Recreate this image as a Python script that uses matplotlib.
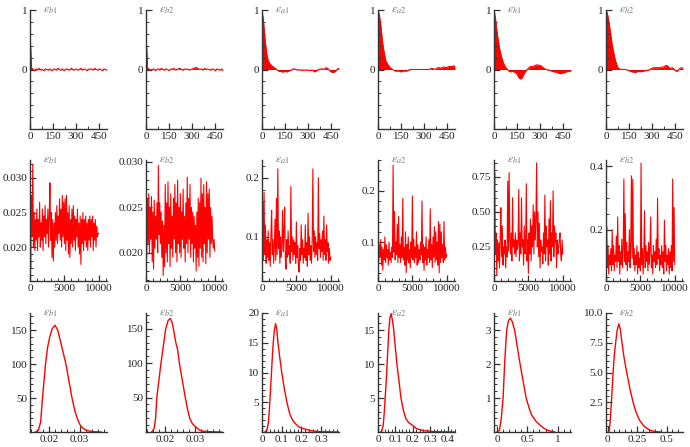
import numpy as np
import matplotlib
matplotlib.use("Agg")
import matplotlib.pyplot as plt
from matplotlib.ticker import FixedLocator, FixedFormatter, MultipleLocator

plt.rcParams['font.family'] = ['Liberation Serif', 'DejaVu Serif']
plt.rcParams['mathtext.fontset'] = 'stix'

names = ['b1', 'b2', 'a1', 'a2', 'h1', 'h2']

# ---------------- autocorrelation (lags 0..500 step 10) ----------------
lags = list(range(0, 501, 10))
acf_b1 = [0.62, 0.03, 0.00, -0.02, 0.01, -0.01, 0.02, -0.01, 0.00, -0.02, 0.01, 0.00, -0.01, 0.01, -0.02, 0.00,
          0.01, -0.01, 0.02, 0.00, -0.01, 0.01, -0.02, 0.00, 0.01, -0.01, 0.00, 0.02, -0.01, 0.00, 0.01, -0.01,
          0.00, 0.02, -0.01, 0.01, 0.00, -0.02, 0.01, 0.00, 0.01, -0.01, 0.02, 0.00, -0.01, 0.01, 0.00, -0.02,
          0.01, 0.00, -0.01]
acf_b2 = [0.62, 0.02, 0.01, -0.01, 0.00, 0.01, -0.02, 0.00, 0.01, -0.01, 0.02, 0.00, -0.01, 0.01, 0.00, -0.02,
          0.01, 0.00, 0.02, -0.01, 0.00, 0.01, 0.02, 0.00, -0.01, 0.01, 0.00, 0.01, -0.01, 0.00, 0.01, 0.02,
          0.03, 0.03, 0.01, 0.00, 0.01, -0.01, 0.02, 0.00, 0.01, 0.00, -0.01, 0.01, 0.00, -0.02, 0.01, 0.00,
          -0.01, 0.01, -0.02]
acf_a1 = [1.00, 0.80, 0.50, 0.28, 0.15, 0.10, 0.07, 0.05, 0.03, 0.01, -0.01, -0.03, -0.03, -0.04, -0.04, -0.03,
          -0.04, -0.03, -0.02, -0.01, 0.01, 0.01, 0.00, -0.01, 0.00, -0.01, -0.01, -0.01, -0.01, -0.01, -0.01,
          -0.02, -0.01, -0.01, -0.04, -0.03, -0.01, 0.00, 0.01, 0.01, 0.00, 0.02, 0.03, 0.01, -0.02, -0.04,
          -0.05, -0.04, -0.02, 0.01, 0.02]
acf_a2 = [1.00, 0.90, 0.70, 0.45, 0.28, 0.15, 0.10, 0.06, 0.03, 0.01, -0.01, -0.02, -0.03, -0.02, -0.03, -0.04,
          -0.03, -0.02, -0.03, -0.02, -0.01, 0.00, 0.00, 0.00, 0.00, 0.00, 0.00, 0.00, 0.00, 0.00, 0.00, 0.00,
          0.00, 0.00, 0.01, 0.02, 0.01, 0.00, 0.02, 0.03, 0.03, 0.02, 0.04, 0.04, 0.03, 0.04, 0.05, 0.05, 0.05,
          0.06, 0.06]
acf_h1 = [1.00, 0.85, 0.62, 0.45, 0.30, 0.20, 0.12, 0.06, 0.02, -0.01, -0.03, -0.04, -0.03, -0.04, -0.05, -0.08,
          -0.13, -0.16, -0.15, -0.10, -0.05, -0.01, 0.01, 0.04, 0.05, 0.05, 0.06, 0.07, 0.08, 0.07, 0.07, 0.05,
          0.03, 0.01, 0.00, -0.01, -0.01, -0.02, -0.03, -0.04, -0.04, -0.05, -0.06, -0.07, -0.06, -0.06, -0.05,
          -0.04, -0.03, -0.03, -0.02]
acf_h2 = [1.00, 0.93, 0.78, 0.60, 0.42, 0.28, 0.16, 0.08, 0.02, 0.01, 0.00, 0.00, 0.00, 0.00, -0.01, -0.02,
          -0.03, -0.04, -0.04, -0.05, -0.04, -0.03, -0.04, -0.03, -0.03, -0.02, -0.02, -0.01, -0.01, 0.01, 0.02,
          0.03, 0.03, 0.03, 0.03, 0.03, 0.04, 0.04, 0.05, 0.07, 0.06, 0.03, 0.02, 0.03, 0.01, -0.02, -0.03,
          -0.01, 0.02, 0.03, 0.02]

# ---------------- traces (iterations 0..10000 step 100) ----------------
iterations = list(range(0, 10001, 100))
tr_b1 = [0.0225, 0.0170, 0.0275, 0.0215, 0.0320, 0.0200, 0.0250, 0.0195, 0.0240, 0.0210,
         0.0255, 0.0195, 0.0240, 0.0215, 0.0265, 0.0200, 0.0235, 0.0210, 0.0255, 0.0195,
         0.0245, 0.0215, 0.0260, 0.0205, 0.0240, 0.0220, 0.0255, 0.0200, 0.0245, 0.0293,
         0.0210, 0.0250, 0.0185, 0.0240, 0.0180, 0.0235, 0.0200, 0.0250, 0.0210, 0.0260,
         0.0205, 0.0245, 0.0220, 0.0270, 0.0210, 0.0255, 0.0200, 0.0275, 0.0215, 0.0265,
         0.0205, 0.0270, 0.0195, 0.0275, 0.0210, 0.0250, 0.0190, 0.0260, 0.0185, 0.0240,
         0.0205, 0.0255, 0.0200, 0.0260, 0.0210, 0.0245, 0.0195, 0.0240, 0.0215, 0.0255,
         0.0200, 0.0235, 0.0190, 0.0245, 0.0175, 0.0240, 0.0205, 0.0250, 0.0195, 0.0240,
         0.0210, 0.0245, 0.0200, 0.0235, 0.0195, 0.0240, 0.0210, 0.0245, 0.0200, 0.0240,
         0.0215, 0.0245, 0.0195, 0.0235, 0.0210, 0.0240, 0.0200, 0.0230, 0.0215, 0.0220,
         0.0220]
tr_b2 = [0.0280, 0.0195, 0.0260, 0.0210, 0.0265, 0.0200, 0.0250, 0.0215, 0.0262, 0.0190,
         0.0245, 0.0182, 0.0258, 0.0205, 0.0240, 0.0215, 0.0255, 0.0200, 0.0296, 0.0220,
         0.0255, 0.0210, 0.0245, 0.0195, 0.0235, 0.0175, 0.0230, 0.0185, 0.0275, 0.0200,
         0.0255, 0.0190, 0.0278, 0.0210, 0.0250, 0.0185, 0.0265, 0.0205, 0.0240, 0.0195,
         0.0260, 0.0215, 0.0275, 0.0200, 0.0255, 0.0190, 0.0280, 0.0210, 0.0250, 0.0200,
         0.0265, 0.0195, 0.0245, 0.0215, 0.0270, 0.0205, 0.0240, 0.0190, 0.0255, 0.0210,
         0.0283, 0.0200, 0.0260, 0.0215, 0.0275, 0.0195, 0.0250, 0.0210, 0.0245, 0.0190,
         0.0240, 0.0205, 0.0230, 0.0180, 0.0245, 0.0195, 0.0260, 0.0185, 0.0255, 0.0205,
         0.0282, 0.0195, 0.0265, 0.0190, 0.0275, 0.0210, 0.0250, 0.0188, 0.0278, 0.0200,
         0.0265, 0.0215, 0.0270, 0.0195, 0.0250, 0.0210, 0.0240, 0.0215, 0.0205, 0.0215,
         0.0202]
tr_a1 = [0.080, 0.160, 0.060, 0.175, 0.070, 0.120, 0.055, 0.095, 0.065, 0.110,
         0.060, 0.090, 0.050, 0.105, 0.145, 0.070, 0.095, 0.055, 0.085, 0.130,
         0.060, 0.165, 0.070, 0.215, 0.080, 0.110, 0.055, 0.100, 0.065, 0.090,
         0.145, 0.075, 0.105, 0.150, 0.060, 0.045, 0.095, 0.065, 0.110, 0.070,
         0.085, 0.055, 0.185, 0.075, 0.100, 0.060, 0.095, 0.070, 0.090, 0.055,
         0.125, 0.065, 0.085, 0.050, 0.040, 0.080, 0.060, 0.120, 0.070, 0.095,
         0.055, 0.080, 0.065, 0.120, 0.060, 0.090, 0.050, 0.140, 0.070, 0.100,
         0.060, 0.085, 0.055, 0.095, 0.215, 0.075, 0.110, 0.065, 0.100, 0.070,
         0.090, 0.060, 0.200, 0.080, 0.105, 0.065, 0.095, 0.075, 0.110, 0.060,
         0.135, 0.070, 0.095, 0.060, 0.120, 0.075, 0.090, 0.055, 0.080, 0.060,
         0.065]
tr_a2 = [0.115, 0.060, 0.095, 0.070, 0.105, 0.055, 0.090, 0.045, 0.085, 0.065,
         0.110, 0.060, 0.095, 0.070, 0.085, 0.055, 0.100, 0.065, 0.080, 0.060,
         0.090, 0.070, 0.250, 0.080, 0.160, 0.065, 0.100, 0.075, 0.135, 0.060,
         0.150, 0.070, 0.095, 0.060, 0.110, 0.070, 0.185, 0.065, 0.090, 0.055,
         0.120, 0.040, 0.095, 0.065, 0.110, 0.060, 0.085, 0.050, 0.100, 0.070,
         0.190, 0.065, 0.105, 0.060, 0.090, 0.070, 0.120, 0.055, 0.095, 0.060,
         0.085, 0.065, 0.100, 0.075, 0.180, 0.060, 0.095, 0.045, 0.090, 0.065,
         0.110, 0.055, 0.085, 0.070, 0.105, 0.060, 0.165, 0.065, 0.095, 0.050,
         0.110, 0.070, 0.130, 0.060, 0.120, 0.065, 0.100, 0.055, 0.140, 0.040,
         0.135, 0.060, 0.120, 0.070, 0.095, 0.060, 0.140, 0.065, 0.090, 0.070,
         0.075]
tr_h1 = [0.450, 0.780, 0.200, 0.350, 0.050, 0.300, 0.150, 0.280, 0.100, 0.330,
         0.530, 0.180, 0.400, 0.120, 0.250, 0.200, 0.300, 0.100, 0.250, 0.180,
         0.720, 0.220, 0.780, 0.300, 0.200, 0.350, 0.150, 0.600, 0.250, 0.300,
         0.200, 0.350, 0.180, 0.300, 0.230, 0.280, 0.660, 0.150, 0.350, 0.200,
         0.600, 0.250, 0.300, 0.120, 0.400, 0.200, 0.280, 0.700, 0.150, 0.300,
         0.060, 0.350, 0.200, 0.450, 0.150, 0.400, 0.250, 0.550, 0.200, 0.500,
         0.300, 0.450, 0.850, 0.250, 0.500, 0.180, 0.420, 0.100, 0.300, 0.220,
         0.250, 0.130, 0.350, 0.200, 0.620, 0.150, 0.400, 0.250, 0.300, 0.120,
         0.450, 0.200, 0.580, 0.150, 0.350, 0.250, 0.650, 0.180, 0.400, 0.280,
         0.350, 0.100, 0.300, 0.200, 0.250, 0.300, 0.350, 0.200, 0.150, 0.300,
         0.200]
tr_h2 = [0.130, 0.210, 0.080, 0.150, 0.060, 0.120, 0.090, 0.140, 0.070, 0.200,
         0.090, 0.150, 0.070, 0.120, 0.100, 0.180, 0.080, 0.240, 0.100, 0.150,
         0.060, 0.130, 0.090, 0.170, 0.080, 0.140, 0.360, 0.100, 0.250, 0.090,
         0.160, 0.070, 0.130, 0.100, 0.200, 0.080, 0.150, 0.370, 0.110, 0.360,
         0.090, 0.140, 0.070, 0.120, 0.090, 0.150, 0.060, 0.130, 0.080, 0.110,
         0.070, 0.410, 0.090, 0.140, 0.060, 0.120, 0.260, 0.080, 0.150, 0.100,
         0.130, 0.070, 0.160, 0.090, 0.140, 0.240, 0.080, 0.120, 0.060, 0.150,
         0.100, 0.130, 0.080, 0.170, 0.090, 0.300, 0.110, 0.140, 0.070, 0.120,
         0.090, 0.150, 0.080, 0.130, 0.060, 0.230, 0.100, 0.150, 0.070, 0.120,
         0.090, 0.140, 0.060, 0.130, 0.080, 0.150, 0.070, 0.360, 0.100, 0.270,
         0.090]

# ---------------- posterior densities ----------------
dx_b1 = [0.0155, 0.0165, 0.0172, 0.0178, 0.0183, 0.0188, 0.0195, 0.0202, 0.0210, 0.0219, 0.0228, 0.0239,
         0.0247, 0.0255, 0.0265, 0.0275, 0.0285, 0.0294, 0.0302, 0.0310, 0.0320, 0.0330, 0.0345, 0.0370]
dy_b1 = [0, 3, 15, 50, 75, 100, 125, 140, 152, 157, 150, 130, 115, 100, 75, 50, 30, 18, 10, 6, 3, 1.5, 0.5, 0]
dx_b2 = [0.0155, 0.0163, 0.0168, 0.0172, 0.0179, 0.0186, 0.0194, 0.0202, 0.0210, 0.0217, 0.0223, 0.0228,
         0.0236, 0.0242, 0.0248, 0.0258, 0.0268, 0.0276, 0.0283, 0.0292, 0.0302, 0.0315, 0.0330, 0.0360, 0.0390]
dy_b2 = [0, 5, 20, 50, 75, 100, 125, 150, 162, 165, 160, 150, 130, 120, 100, 75, 50, 32, 20, 12, 8, 3, 1, 0.3, 0]
dx_a1 = [0.015, 0.025, 0.032, 0.038, 0.043, 0.048, 0.053, 0.057, 0.062, 0.069, 0.075, 0.081, 0.090, 0.100,
         0.112, 0.126, 0.141, 0.155, 0.172, 0.190, 0.216, 0.250, 0.300, 0.390]
dy_a1 = [0, 0.3, 1.5, 4, 7, 10, 13, 15, 17, 18.2, 17.2, 15, 12.5, 10, 7.5, 5, 3, 2, 1.3, 0.8, 0.5, 0.2, 0.05, 0]
dx_a2 = [0.015, 0.022, 0.030, 0.036, 0.041, 0.047, 0.052, 0.057, 0.062, 0.068, 0.075, 0.082, 0.090, 0.099,
         0.108, 0.120, 0.131, 0.145, 0.159, 0.175, 0.196, 0.220, 0.260, 0.320, 0.440]
dy_a2 = [0, 0.2, 1, 3, 5, 7.5, 10, 12.5, 15, 16.8, 17.4, 16.5, 15, 12.5, 10, 7.5, 5, 3.2, 2, 1.4, 1, 0.5, 0.2,
         0.05, 0]
dx_h1 = [0.0, 0.04, 0.07, 0.10, 0.125, 0.145, 0.16, 0.19, 0.22, 0.25, 0.29, 0.33, 0.38, 0.43, 0.48, 0.53,
         0.57, 0.64, 0.71, 0.78, 0.85, 0.95]
dy_h1 = [0, 0.05, 0.4, 1.0, 2.0, 2.6, 3.0, 3.28, 3.35, 3.25, 3.0, 2.55, 2.0, 1.5, 1.0, 0.7, 0.5, 0.32, 0.2,
         0.1, 0.04, 0]
dx_h2 = [0.005, 0.014, 0.022, 0.032, 0.046, 0.057, 0.068, 0.080, 0.095, 0.108, 0.122, 0.140, 0.162, 0.190,
         0.216, 0.240, 0.270, 0.300, 0.320, 0.360, 0.400, 0.450]
dy_h2 = [0, 0.1, 1.0, 2.5, 5, 6.5, 7.5, 8.5, 9.1, 8.6, 7.5, 6.2, 5.0, 3.6, 2.5, 1.7, 1.0, 0.6, 0.4, 0.15, 0.05, 0]

acfs = [acf_b1, acf_b2, acf_a1, acf_a2, acf_h1, acf_h2]
traces = [tr_b1, tr_b2, tr_a1, tr_a2, tr_h1, tr_h2]
dens_x = [dx_b1, dx_b2, dx_a1, dx_a2, dx_h1, dx_h2]
dens_y = [dy_b1, dy_b2, dy_a1, dy_a2, dy_h1, dy_h2]

# axis settings: (ylim, major ticks, labels, minor step)
trace_cfg = [
    ((0.0151, 0.0326), [0.020, 0.025, 0.030], ['0.020', '0.025', '0.030'], 0.001),
    ((0.0169, 0.0302), [0.020, 0.025, 0.030], ['0.020', '0.025', '0.030'], 0.001),
    ((0.025, 0.23), [0.1, 0.2], ['0.1', '0.2'], 0.02),
    ((0.024, 0.26), [0.1, 0.2], ['0.1', '0.2'], 0.02),
    ((0.007, 0.87), [0.25, 0.5, 0.75], ['0.25', '0.50', '0.75'], 0.05),
    ((0.038, 0.42), [0.2, 0.4], ['0.2', '0.4'], 0.05),
]
dens_cfg = [
    ((0.0137, 0.039), [0.02, 0.03], ['0.02', '0.03'], 0.002, (0, 175), [50, 100, 150], ['50', '100', '150'], 10),
    ((0.01356, 0.0395), [0.02, 0.03], ['0.02', '0.03'], 0.002, (0, 173), [50, 100, 150], ['50', '100', '150'], 10),
    ((0.0, 0.39), [0, 0.1, 0.2, 0.3], ['0', '0.1', '0.2', '0.3'], 0.02, (0, 20), [5, 10, 15, 20], ['5', '10', '15', '20'], 1),
    ((0.0, 0.44), [0, 0.1, 0.2, 0.3, 0.4], ['0', '0.1', '0.2', '0.3', '0.4'], 0.02, (0, 17.5), [5, 10, 15], ['5', '10', '15'], 1),
    ((-0.05, 1.22), [0, 0.5, 1], ['0', '0.5', '1'], 0.1, (0, 3.5), [1, 2, 3], ['1', '2', '3'], 0.2),
    ((-0.014, 0.64), [0, 0.25, 0.5], ['0', '0.25', '0.5'], 0.05, (0, 10), [2.5, 5, 7.5, 10], ['2.5', '5.0', '7.5', '10.0'], 0.5),
]

W, H = 690, 447
fig = plt.figure(figsize=(W / 100, H / 100), dpi=100)
lefts = [30, 146, 262, 378, 494, 606]
rows = [(10, 129), (160, 281), (313, 432)]
AW = 77
RED = '#ff0000'
AX_COL = '#333333'
FS = 8.0


def make_ax(left, top, bottom):
    ax = fig.add_axes([left / W, (H - bottom) / H, AW / W, (bottom - top) / H])
    for s in ['top', 'right']:
        ax.spines[s].set_visible(False)
    for s in ['left', 'bottom']:
        ax.spines[s].set_color(AX_COL)
        ax.spines[s].set_linewidth(1.0)
    ax.tick_params(which='both', direction='in', colors=AX_COL, labelsize=FS, pad=2, labelcolor='#222222')
    ax.tick_params(which='major', length=4, width=0.9)
    ax.tick_params(which='minor', length=2, width=0.7)
    ax.patch.set_alpha(0)
    return ax


def title(ax, name):
    ax.text(0.17, 1.0, r'$\epsilon_{%s}$' % name, transform=ax.transAxes, fontsize=8.5,
            color='#777777', ha='left', va='center')


for i, nm in enumerate(names):
    # row 1 : autocorrelation
    ax = make_ax(lefts[i], *rows[0])
    ax.fill_between(lags, acfs[i], 0, color=RED, lw=0)
    ax.plot(lags, acfs[i], color=RED, lw=0.8)
    ax.set_xlim(0, 500)
    ax.set_ylim(-1, 1)
    ax.xaxis.set_major_locator(FixedLocator([0, 150, 300, 450]))
    ax.xaxis.set_major_formatter(FixedFormatter(['0', '150', '300', '450']))
    ax.xaxis.set_minor_locator(FixedLocator([75, 225, 375]))
    ax.yaxis.set_major_locator(FixedLocator([0, 1]))
    ax.yaxis.set_major_formatter(FixedFormatter(['0', '1']))
    ax.yaxis.set_minor_locator(MultipleLocator(0.2))
    title(ax, nm)

    # row 2 : trace
    ax = make_ax(lefts[i], *rows[1])
    ax.plot(iterations, traces[i], color=RED, lw=0.8)
    ylim, maj, lab, mn = trace_cfg[i]
    ax.set_xlim(0, 11200)
    ax.set_ylim(*ylim)
    ax.xaxis.set_major_locator(FixedLocator([0, 5000, 10000]))
    ax.xaxis.set_major_formatter(FixedFormatter(['0', '5000', '10000']))
    ax.xaxis.set_minor_locator(MultipleLocator(1000))
    ax.yaxis.set_major_locator(FixedLocator(maj))
    ax.yaxis.set_major_formatter(FixedFormatter(lab))
    ax.yaxis.set_minor_locator(MultipleLocator(mn))
    title(ax, nm)

    # row 3 : density
    ax = make_ax(lefts[i], *rows[2])
    ax.plot(dens_x[i], dens_y[i], color=RED, lw=1.0)
    xlim, xmaj, xlab, xmn, ylim, ymaj, ylab, ymn = dens_cfg[i]
    ax.set_xlim(*xlim)
    ax.set_ylim(*ylim)
    ax.xaxis.set_major_locator(FixedLocator(xmaj))
    ax.xaxis.set_major_formatter(FixedFormatter(xlab))
    ax.xaxis.set_minor_locator(MultipleLocator(xmn))
    ax.yaxis.set_major_locator(FixedLocator(ymaj))
    ax.yaxis.set_major_formatter(FixedFormatter(ylab))
    ax.yaxis.set_minor_locator(MultipleLocator(ymn))
    title(ax, nm)

fig.savefig('out.png', dpi=100)
